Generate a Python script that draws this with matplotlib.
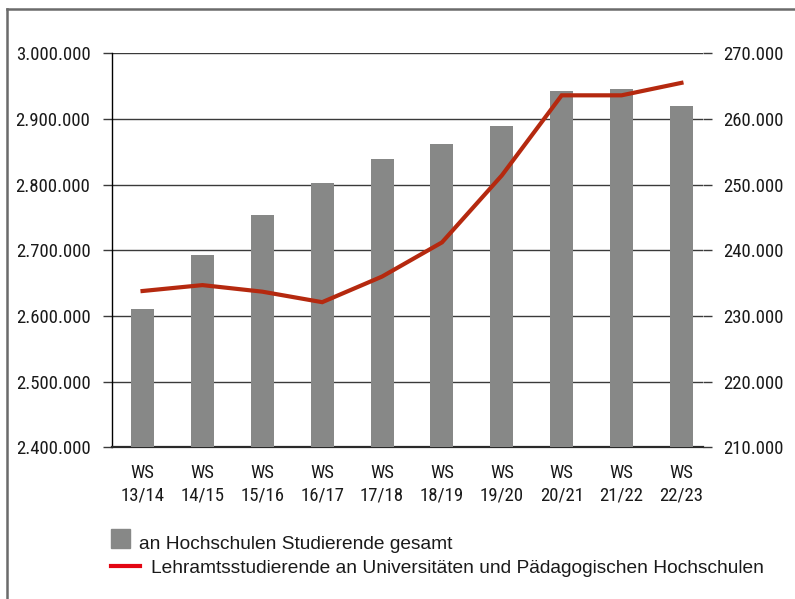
import matplotlib
matplotlib.use("Agg")
import matplotlib.pyplot as plt
from matplotlib import font_manager
from matplotlib.font_manager import FontProperties
from matplotlib.lines import Line2D
from matplotlib.patches import Rectangle
from matplotlib.ticker import FuncFormatter, FixedLocator

# Daten
semester = ["13/14", "14/15", "15/16", "16/17", "17/18",
            "18/19", "19/20", "20/21", "21/22", "22/23"]
studierende_gesamt = [2611000, 2693000, 2754000, 2802000, 2839000,
                      2862000, 2889000, 2943000, 2946000, 2920000]
lehramt = [233800, 234700, 233700, 232100, 236000,
           241200, 251400, 263600, 263600, 265500]
label_balken = "an Hochschulen Studierende gesamt"
label_linie = "Lehramtsstudierende an Universitäten und Pädagogischen Hochschulen"


# schmale Schrift fuer die Achsen suchen (wie Univers Condensed im Original)
def schmale_schrift():
    kandidaten = []
    for f in font_manager.fontManager.ttflist:
        name = f.name.lower()
        fn = f.fname.lower()
        if f.style != "normal":
            continue
        if "bold" in fn or "oblique" in fn or "italic" in fn or "light" in fn:
            continue
        if "mono" in name or "serif" in name and "sans" not in name:
            continue
        if "condensed" in fn or "narrow" in fn or str(f.stretch) in ("condensed", "semi-condensed"):
            kandidaten.append(f)
    prio = ["liberation sans narrow", "roboto condensed", "open sans condensed",
            "dejavu sans"]
    for p in prio:
        for f in kandidaten:
            if f.name.lower().startswith(p):
                return FontProperties(fname=f.fname), True
    if kandidaten:
        return FontProperties(fname=kandidaten[0].fname), True
    return FontProperties(family="DejaVu Sans"), False


schmal, gefunden = schmale_schrift()
tick_size = 13.5 if gefunden else 11.5


def tausender(v, pos):
    return format(int(round(v)), ",").replace(",", ".")


W, H = 795, 599
fig = plt.figure(figsize=(W / 100, H / 100), dpi=100)
fig.patch.set_facecolor("white")

# Rahmen oben und links
fig.add_artist(Line2D([7 / W, 7 / W], [0, 1 - 9 / H], color="#6b6b6b", lw=1.8,
                      transform=fig.transFigure))
fig.add_artist(Line2D([7 / W, 1], [1 - 9 / H, 1 - 9 / H], color="#6b6b6b", lw=1.8,
                      transform=fig.transFigure))

left, right = 112 / W, 703 / W
top, bottom = 1 - 53.3 / H, 1 - 447.3 / H
ax = fig.add_axes([left, bottom, right - left, top - bottom])
ax2 = ax.twinx()

x = list(range(len(semester)))
ax.bar(x, studierende_gesamt, width=0.385, color="#878887", zorder=3)
ax.set_ylim(2400000, 3000000)
ax.set_xlim(-0.51, 9.36)

ax.yaxis.set_major_locator(FixedLocator(range(2400000, 3000001, 100000)))
ax.yaxis.set_major_formatter(FuncFormatter(tausender))
ax.yaxis.grid(True, color="#3a3a3a", lw=1.0, zorder=0)
ax.set_axisbelow(True)

ax2.plot(x, lehramt, color="#b5290f", lw=3.0, solid_joinstyle="miter", zorder=4)
ax2.set_ylim(210000, 270000)
ax2.yaxis.set_major_locator(FixedLocator(range(210000, 270001, 10000)))
ax2.yaxis.set_major_formatter(FuncFormatter(tausender))

for a in (ax, ax2):
    for s in ("top", "right"):
        a.spines[s].set_visible(False)
ax2.spines["left"].set_visible(False)
ax2.spines["bottom"].set_visible(False)
ax.spines["left"].set_color("black")
ax.spines["left"].set_linewidth(1.0)
ax.spines["bottom"].set_color("#2a2a2a")
ax.spines["bottom"].set_linewidth(1.6)

ax.tick_params(axis="y", length=6.5, width=1.0, color="#3a3a3a", pad=9)
ax2.tick_params(axis="y", length=6.5, width=1.0, color="#3a3a3a", pad=8)
ax.set_xticks(x)
ax.set_xticklabels(["WS\n" + s for s in semester], linespacing=1.3)
ax.tick_params(axis="x", length=0, pad=12)

for lab in ax.get_yticklabels() + ax2.get_yticklabels() + ax.get_xticklabels():
    lab.set_fontproperties(schmal)
    lab.set_fontsize(tick_size)
    lab.set_color("#1a1a1a")

# Legende
fig.add_artist(Rectangle((111 / W, 1 - 548 / H), 19 / W, 19 / H,
                         color="#878887", transform=fig.transFigure))
fig.text(139 / W, 1 - 549 / H, label_balken, family="Liberation Sans", fontsize=13.8,
         color="#1a1a1a", va="baseline", ha="left")
fig.add_artist(Line2D([111 / W, 140 / W], [1 - 566 / H, 1 - 566 / H],
                      color="#e30613", lw=3.0, transform=fig.transFigure))
fig.text(151 / W, 1 - 573 / H, label_linie, family="Liberation Sans", fontsize=13.8,
         color="#1a1a1a", va="baseline", ha="left")

fig.savefig("out.png", dpi=100)
